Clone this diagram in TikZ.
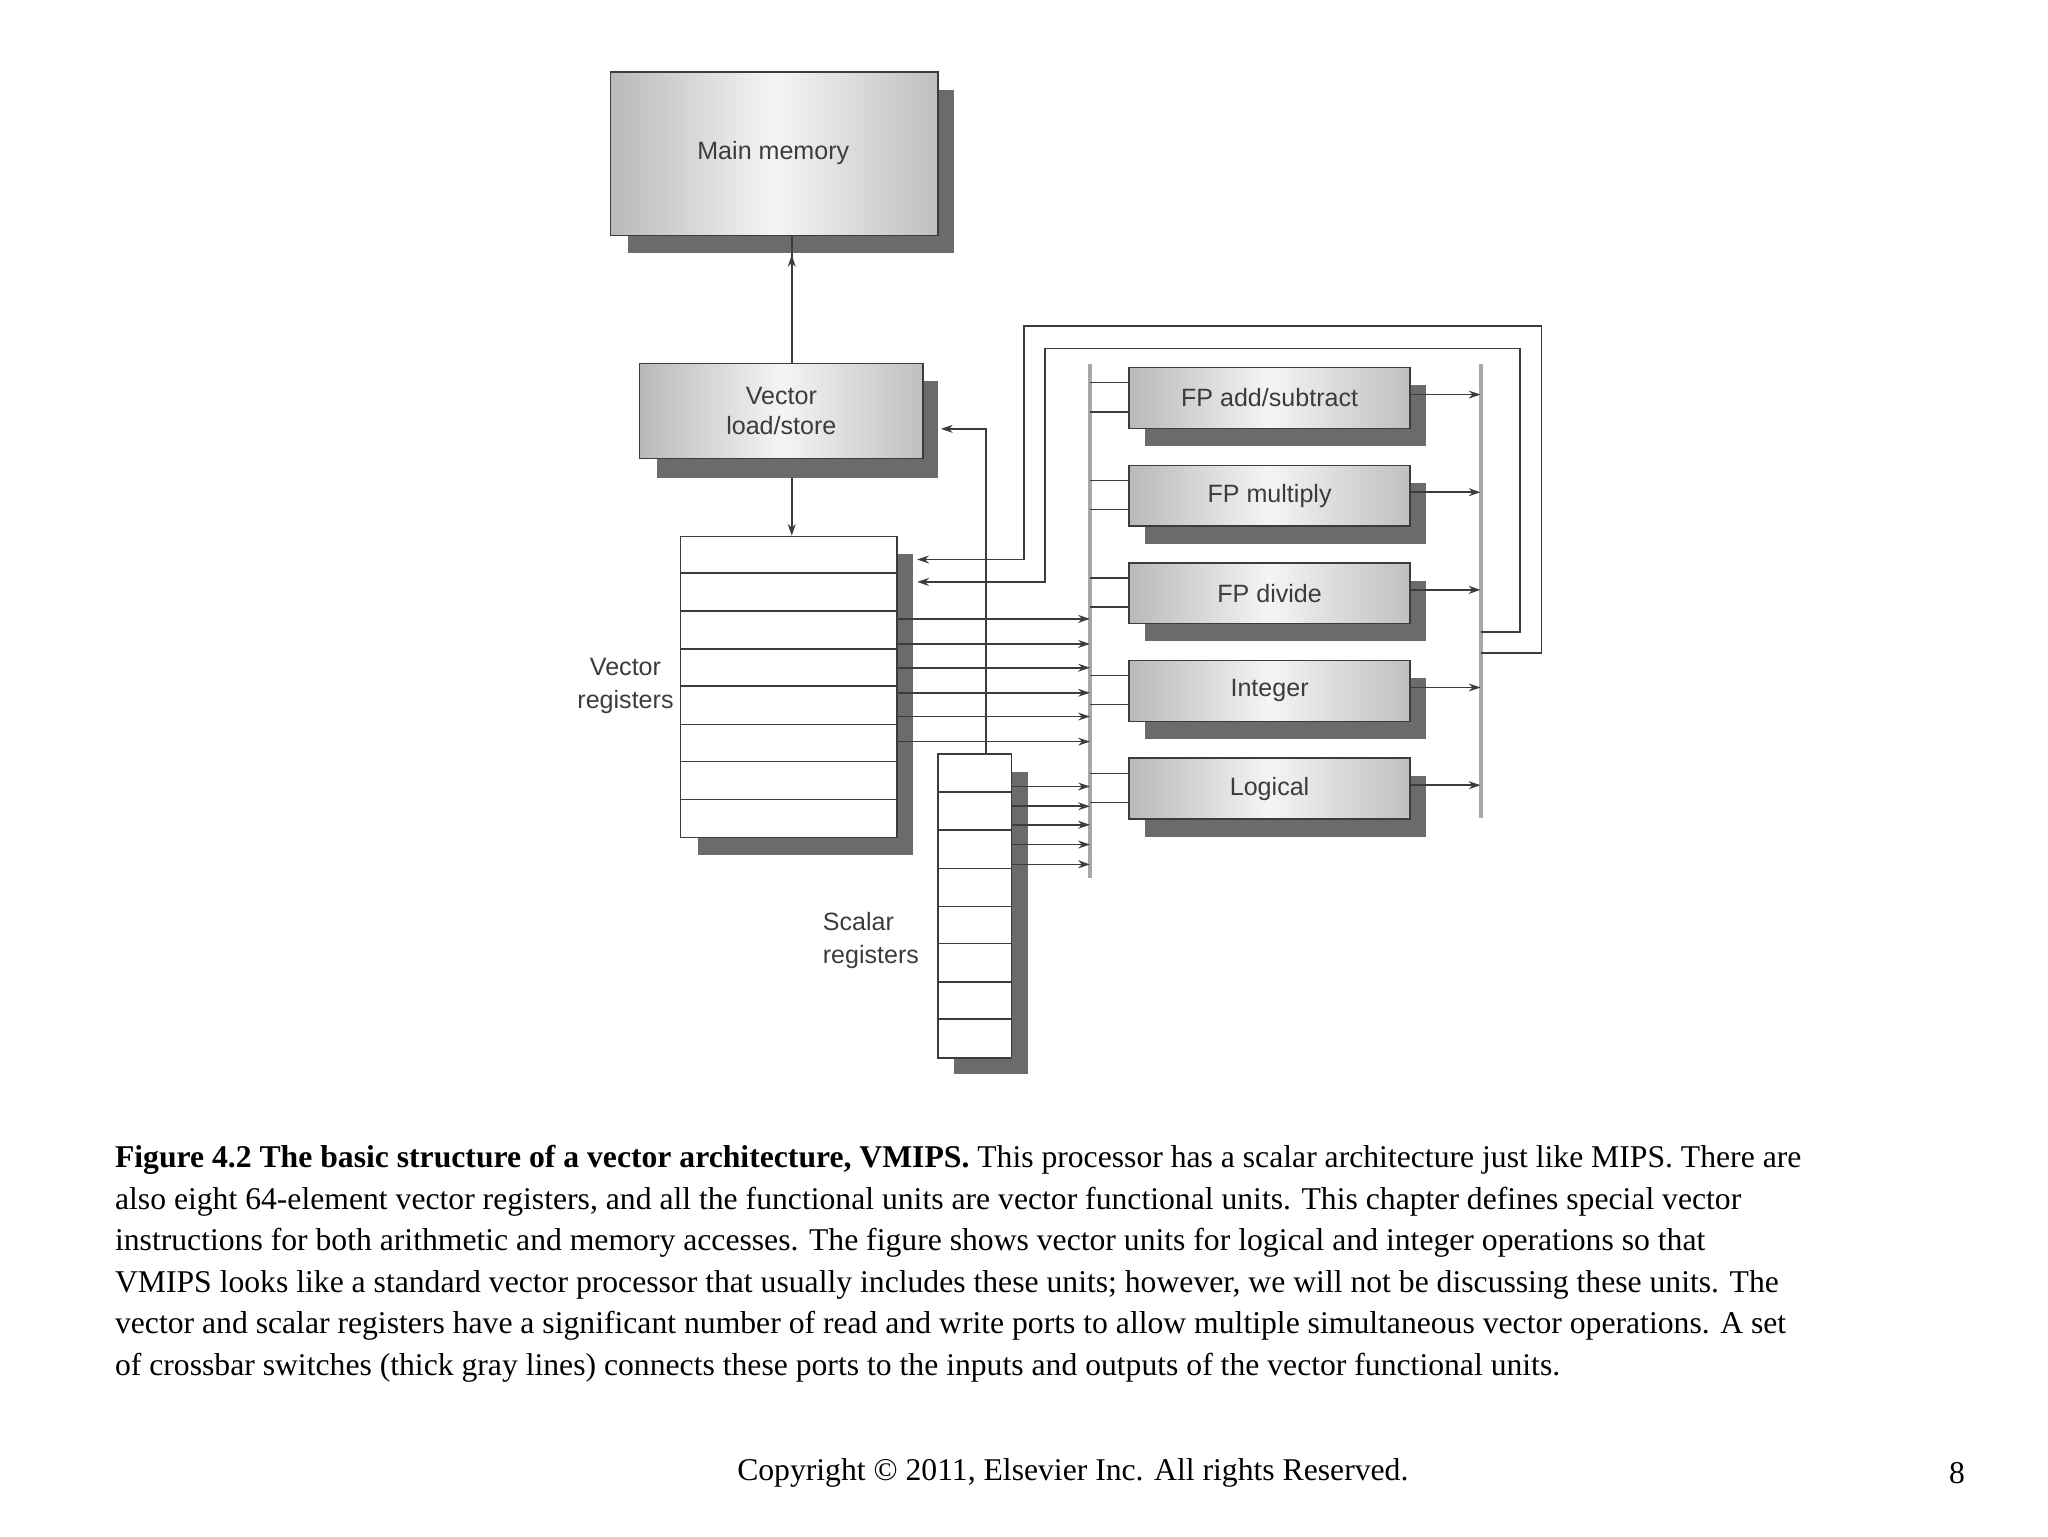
\documentclass[tikz,border=0pt]{standalone}
\usepackage{fontspec}
\setmainfont{Liberation Serif}
\newfontfamily\dsans{Liberation Sans}
\usetikzlibrary{arrows.meta,calc}
\definecolor{ln}{HTML}{3C3C3C}
\definecolor{sh}{HTML}{6B6B6B}
\definecolor{xb}{HTML}{A8A8A8}
\begin{document}
\begin{tikzpicture}[x=1bp,y=-1bp,
  box/.style={draw=ln,line width=1.2bp,left color=gray!55,right color=gray!50,middle color=gray!8,
     anchor=north west,inner sep=0pt,font=\dsans\fontsize{19bp}{23bp}\selectfont,text=ln,align=center},
  shad/.style={fill=sh},
  reg/.style={draw=ln,line width=1.2bp,fill=white,anchor=north west,inner sep=0pt},
  wire/.style={draw=ln,line width=1.2bp},
  arr/.style={wire,-{Stealth[length=9bp,width=6bp]}},
  xbar/.style={draw=xb,line width=3bp},
  lab/.style={font=\dsans\fontsize{19bp}{25bp}\selectfont,text=ln,align=left}]
\useasboundingbox (0,0) rectangle (1552,1164);
% main memory
\fill[shad] (476,68) rectangle (723,192);
\node[box,minimum width=248bp,minimum height=124bp] (mm) at (462,54) {};
\node[font=\dsans\fontsize{19bp}{23bp}\selectfont,text=ln] at (586,116) {Main memory};
% load/store
\fill[shad] (498,289) rectangle (711,362);
\node[box,minimum width=215bp,minimum height=72bp] (ls) at (484,275) {Vector\\load/store};
% vector registers
\fill[shad] (529,420) rectangle (692,648);
\node[reg,minimum width=164bp,minimum height=228bp] (vr) at (515,406) {};
\foreach \y in {434,463,492,520,549,577,606} \draw[wire] (515,\y) -- (679,\y);
\node[lab,align=center,anchor=center] at (474,520) {Vector\\registers};
% scalar registers
\fill[shad] (723,585) rectangle (779,814);
\node[reg,minimum width=56bp,minimum height=230bp] (sr) at (710,571) {};
\foreach \y in {600,629,658,687,715,744,772} \draw[wire] (710,\y) -- (766,\y);
\node[lab,anchor=west] at (620,713) {Scalar\\registers};
% crossbars
\coordinate (xl1) at (826,276); \coordinate (xl2) at (826,665);
\coordinate (xr1) at (1122,276); \coordinate (xr2) at (1122,620);
\draw[xbar] (xl1) -- (xl2);
\draw[xbar] (xr1) -- (xr2);
% functional units
\foreach \n/\t/\y in {fa/FP add\slash subtract/278,fm/FP multiply/352,fd/FP divide/426,in/Integer/500,lo/Logical/574}{
  \fill[shad] (868,\y+14) rectangle (1081,\y+60);
  \node[box,minimum width=213bp,minimum height=46bp] (\n) at (855,\y) {\t};
  \draw[wire] (xl1 |- 0,\y+12) -- (\n.west |- 0,\y+12);
  \draw[wire] (xl1 |- 0,\y+34) -- (\n.west |- 0,\y+34);
  \draw[arr] (\n.east |- 0,\y+21) -- (xr1 |- 0,\y+21);
}
% memory arrows
\draw[arr] (ls.north -| 600,0) -- (mm.south -| 600,0) ++(0,14);
\draw[arr] (600,362) -- (vr.north -| 600,0);
% vector to crossbar
\foreach \y in {469,488,506,525,543,562} \draw[arr] (vr.east |- 0,\y) -- (xl1 |- 0,\y);
\foreach \y in {596,611,625,640,655} \draw[arr] (sr.east |- 0,\y) -- (xl1 |- 0,\y);
% scalar to load/store
\coordinate (lsin) at (713,325);
\draw[arr] (sr.north -| 747,0) -- (747,325) -- (lsin);
% return paths
\coordinate (r1) at (695,424); \coordinate (r2) at (695,441);
\draw[arr] (xr1 |- 0,495) -- (1168,495) -- (1168,247) -- (776,247) -- (776,424) -- (r1);
\draw[arr] (xr1 |- 0,479) -- (1152,479) -- (1152,264) -- (792,264) -- (792,441) -- (r2);
% caption
\node[anchor=north west,align=left,inner sep=0pt,font=\fontsize{24bp}{31.4bp}\selectfont] (cap) at (87,868)
{\textbf{Figure 4.2 The basic structure of a vector architecture, VMIPS.} This processor has a scalar architecture just like MIPS. There are\\
also eight 64-element vector registers, and all the functional units are vector functional units. This chapter defines special vector\\
instructions for both arithmetic and memory accesses. The figure shows vector units for logical and integer operations so that\\
VMIPS looks like a standard vector processor that usually includes these units; however, we will not be discussing these units. The\\
vector and scalar registers have a significant number of read and write ports to allow multiple simultaneous vector operations. A set\\
of crossbar switches (thick gray lines) connects these ports to the inputs and outputs of the vector functional units.};
\node[font=\fontsize{24bp}{28bp}\selectfont] (copy) at (813,1116) {Copyright \textcopyright{} 2011, Elsevier Inc. All rights Reserved.};
\node[font=\fontsize{24bp}{28bp}\selectfont] (pg) at (1483,1116) {8};
\end{tikzpicture}
\end{document}
